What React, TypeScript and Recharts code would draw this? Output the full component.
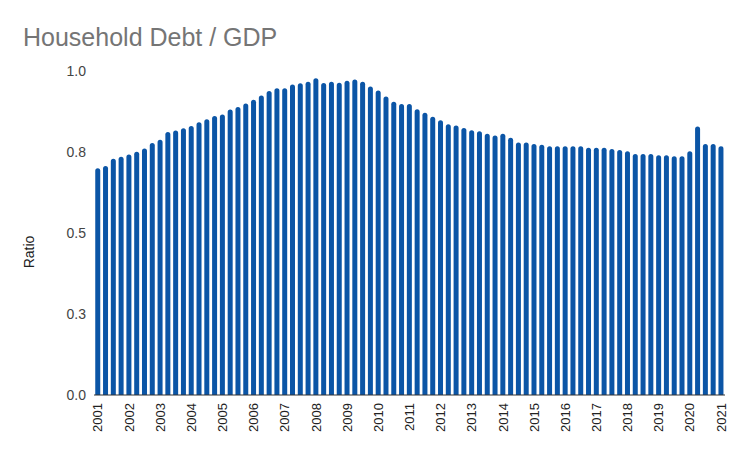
import { BarChart, Bar, XAxis, YAxis } from "recharts";

const startYear = 2001;

// household debt to GDP ratio, quarterly from 2001 Q1 to 2021 Q1
const debtRatio = [
  0.700, 0.707, 0.729, 0.735, 0.742, 0.751, 0.761, 0.778, 0.788, 0.812,
  0.816, 0.823, 0.830, 0.842, 0.851, 0.861, 0.866, 0.881, 0.889, 0.900,
  0.911, 0.924, 0.938, 0.947, 0.947, 0.958, 0.962, 0.967, 0.978, 0.963,
  0.967, 0.964, 0.970, 0.974, 0.967, 0.952, 0.940, 0.921, 0.905, 0.898,
  0.898, 0.882, 0.871, 0.859, 0.848, 0.836, 0.832, 0.824, 0.817, 0.814,
  0.806, 0.801, 0.806, 0.794, 0.779, 0.779, 0.775, 0.772, 0.768, 0.768,
  0.768, 0.768, 0.768, 0.763, 0.763, 0.763, 0.759, 0.756, 0.752, 0.744,
  0.744, 0.744, 0.740, 0.740, 0.737, 0.737, 0.752, 0.829, 0.775, 0.775,
  0.768,
];

const quarters = debtRatio.map(
  (_, i) => `${startYear + Math.floor(i / 4)} Q${(i % 4) + 1}`
);

const yTicks = [0, 0.25, 0.5, 0.75, 1];

const data = quarters.map((q, i) => ({ quarter: q, ratio: debtRatio[i] }));

const font = "Arial, 'Liberation Sans', sans-serif";

function YearTick({ x, y, payload }: any) {
  return (
    <text
      x={x}
      y={y}
      dy="0.35em"
      textAnchor="end"
      transform={`rotate(-90, ${x}, ${y})`}
      fontFamily={font}
      fontSize={13}
      fill="#222"
    >
      {String(payload.value).slice(0, 4)}
    </text>
  );
}

export default function App() {
  return (
    <div
      style={{
        position: "absolute",
        left: 0,
        top: 0,
        width: 750,
        height: 463,
        background: "#fff",
        fontFamily: font,
      }}
    >
      <div
        style={{
          position: "absolute",
          left: 23,
          top: 23,
          fontSize: 25,
          color: "#757575",
          lineHeight: "28px",
        }}
      >
        Household Debt / GDP
      </div>
      <div
        style={{
          position: "absolute",
          left: 29,
          top: 252,
          transform: "translate(-50%, -50%) rotate(-90deg)",
          fontSize: 14,
          color: "#222",
          whiteSpace: "nowrap",
        }}
      >
        Ratio
      </div>
      <BarChart
        width={750}
        height={463}
        data={data}
        margin={{ top: 71, right: 25, bottom: 8, left: 0 }}
        barCategoryGap="16%"
      >
        <XAxis
          dataKey="quarter"
          interval={3}
          tickLine={false}
          axisLine={{ stroke: "#333" }}
          height={60}
          tick={<YearTick />}
        />
        <YAxis
          width={94}
          domain={[0, 1]}
          ticks={yTicks}
          axisLine={false}
          tickLine={false}
          tickFormatter={(v: number) => v.toFixed(1)}
          tick={{ fontSize: 14, fill: "#444", fontFamily: font }}
        />
        <Bar
          dataKey="ratio"
          fill="#0b55a6"
          radius={[3, 3, 0, 0]}
          isAnimationActive={false}
        />
      </BarChart>
    </div>
  );
}
